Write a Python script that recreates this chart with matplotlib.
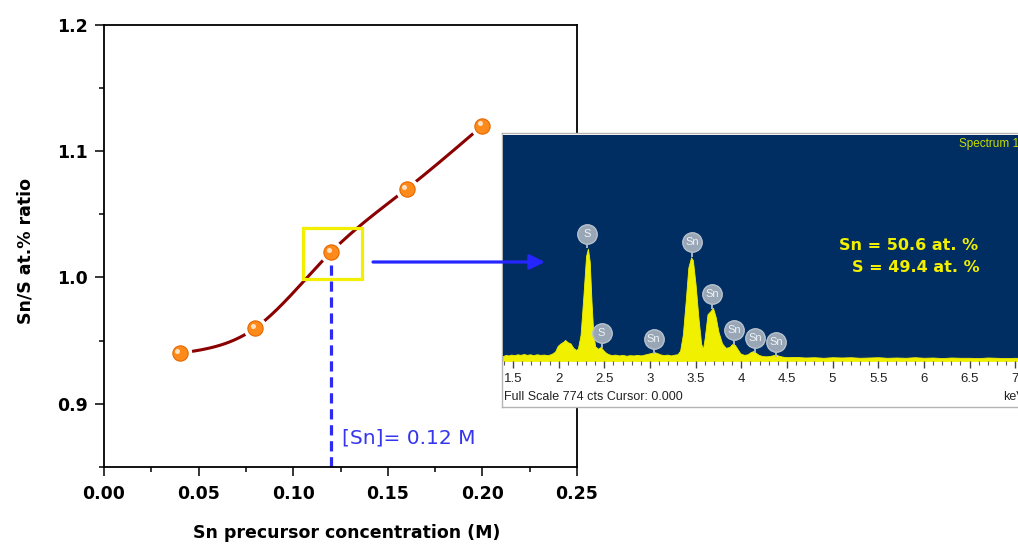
import numpy as np
import matplotlib
matplotlib.use('Agg')
import matplotlib.pyplot as plt
from matplotlib.patches import Rectangle, FancyArrowPatch
from matplotlib.ticker import MultipleLocator
from matplotlib.transforms import ScaledTranslation

# main plot: Sn/S ratio vs precursor concentration
conc = [0.04, 0.08, 0.12, 0.16, 0.20]
ratio = [0.94, 0.96, 1.02, 1.07, 1.12]

# EDS spectrum (keV, counts)
kev = [1.39, 1.42, 1.45, 1.48, 1.51, 1.55, 1.58, 1.62, 1.65, 1.69, 1.72, 1.76, 1.80, 1.84,
       1.88, 1.92, 1.96, 1.99, 2.02, 2.05, 2.07, 2.10, 2.13, 2.16, 2.19, 2.21, 2.24, 2.27,
       2.30, 2.32, 2.34, 2.36, 2.38, 2.40, 2.43, 2.46, 2.48, 2.51, 2.54, 2.58, 2.62, 2.66,
       2.70, 2.74, 2.78, 2.82, 2.86, 2.90, 2.94, 2.98, 3.02, 3.05, 3.08, 3.11, 3.15, 3.19,
       3.23, 3.27, 3.30, 3.33, 3.36, 3.39, 3.42, 3.45, 3.47, 3.50, 3.53, 3.56, 3.58, 3.60,
       3.63, 3.66, 3.69, 3.72, 3.75, 3.79, 3.83, 3.87, 3.90, 3.93, 3.96, 3.99, 4.03, 4.07,
       4.10, 4.13, 4.16, 4.19, 4.23, 4.27, 4.31, 4.35, 4.38, 4.41, 4.45, 4.50, 4.60, 4.70,
       4.80, 4.90, 5.00, 5.10, 5.20, 5.30, 5.40, 5.50, 5.60, 5.70, 5.80, 5.90, 6.00, 6.10,
       6.20, 6.30, 6.40, 6.50, 6.60, 6.70, 6.80, 6.90, 7.00, 7.10, 7.30]
cts = [17, 21, 19, 22, 20, 23, 21, 24, 21, 23, 20, 23, 21, 22,
       20, 24, 32, 52, 60, 66, 72, 64, 60, 45, 38, 42, 90, 220,
       360, 385, 340, 200, 90, 50, 42, 48, 40, 30, 24, 20, 22, 19,
       21, 18, 20, 19, 21, 19, 22, 25, 28, 30, 27, 23, 20, 22,
       19, 22, 23, 35, 90, 200, 320, 355, 345, 260, 150, 60, 40, 80,
       160, 170, 182, 150, 100, 60, 45, 48, 58, 55, 40, 26, 21, 23,
       30, 34, 28, 21, 17, 16, 17, 20, 22, 18, 15, 13, 14, 12,
       13, 11, 13, 12, 13, 11, 12, 13, 11, 12, 11, 13, 11, 12,
       10, 12, 11, 11, 10, 12, 11, 10, 11, 10, 10]

# peak markers
badge_el = ['S', 'S', 'Sn', 'Sn', 'Sn', 'Sn', 'Sn', 'Sn']
badge_kev = [2.31, 2.47, 3.04, 3.46, 3.68, 3.92, 4.15, 4.38]
badge_cts = [436, 95, 75, 406, 228, 106, 78, 65]

kev_ticks = [1.5, 2, 2.5, 3, 3.5, 4, 4.5, 5, 5.5, 6, 6.5, 7]
kev_labels = ['1.5', '2', '2.5', '3', '3.5', '4', '4.5', '5', '5.5', '6', '6.5', '7']

W, H = 1018, 544


def fx(px):
    return px / W


def fy(py):
    return 1 - py / H


def spline(x, y, n=200):
    # natural cubic spline for the smooth guide line
    x = np.asarray(x, float)
    y = np.asarray(y, float)
    k = len(x)
    h = np.diff(x)
    A = np.zeros((k, k))
    b = np.zeros(k)
    A[0, 0] = A[-1, -1] = 1
    for i in range(1, k - 1):
        A[i, i - 1] = h[i - 1]
        A[i, i] = 2 * (h[i - 1] + h[i])
        A[i, i + 1] = h[i]
        b[i] = 6 * ((y[i + 1] - y[i]) / h[i] - (y[i] - y[i - 1]) / h[i - 1])
    M = np.linalg.solve(A, b)
    xs = np.linspace(x[0], x[-1], n)
    j = np.clip(np.searchsorted(x, xs) - 1, 0, k - 2)
    t0 = x[j + 1] - xs
    t1 = xs - x[j]
    ys = (M[j] * t0 ** 3 + M[j + 1] * t1 ** 3) / (6 * h[j]) \
        + (y[j] / h[j] - M[j] * h[j] / 6) * t0 + (y[j + 1] / h[j] - M[j + 1] * h[j] / 6) * t1
    return xs, ys


plt.rcParams['font.family'] = 'DejaVu Sans'

fig = plt.figure(figsize=(W / 100, H / 100), dpi=100)
ax = fig.add_axes([fx(104), fy(467), fx(577) - fx(104), (467 - 24.5) / H])

xs, ys = spline(conc, ratio)
ax.plot(xs, ys, color='#8b0000', lw=2.2, zorder=2)
ax.plot(conc, ratio, 'o', ms=17, color='white', mec='none', zorder=3)
ax.plot(conc, ratio, 'o', ms=11, mfc='#ff8a1c', mec='#e26800', mew=0.8, zorder=4)
hl = ax.transData + ScaledTranslation(-1.6 / 72, 1.6 / 72, fig.dpi_scale_trans)
ax.plot(conc, ratio, 'o', ms=3.6, color='#ffe2c4', mec='none', transform=hl, zorder=5)

ax.add_patch(Rectangle((0.1052, 0.999), 0.0312, 0.040, fill=False,
                       ec='#f2f000', lw=2.3, zorder=6))
ax.plot([0.12, 0.12], [1.01, 0.85], color='#2b2bf2', lw=2.3,
        ls=(0, (3.2, 1.8)), zorder=1, clip_on=False)
ax.text(0.1258, 0.873, '[Sn]= 0.12 M', color='#3535ee', fontsize=14.5, va='center')

ax.set_xlim(0, 0.25)
ax.set_ylim(0.85, 1.2)
ax.set_xticks([0.0, 0.05, 0.10, 0.15, 0.20, 0.25])
ax.set_yticks([0.9, 1.0, 1.1, 1.2])
ax.xaxis.set_minor_locator(MultipleLocator(0.025))
ax.yaxis.set_minor_locator(MultipleLocator(0.05))
ax.tick_params(which='major', direction='out', length=6.5, width=1.1, labelsize=12.5)
ax.tick_params(axis='x', which='major', pad=6.5)
ax.tick_params(axis='y', which='major', pad=5)
ax.tick_params(which='minor', direction='out', length=3.6, width=1.1)
for lab in ax.get_xticklabels() + ax.get_yticklabels():
    lab.set_fontweight('bold')
ax.xaxis.set_major_formatter(plt.FormatStrFormatter('%.2f'))
ax.yaxis.set_major_formatter(plt.FormatStrFormatter('%.1f'))
for s in ax.spines.values():
    s.set_linewidth(1.3)
ax.set_xlabel('Sn precursor concentration (M)', fontsize=12.5, fontweight='bold')
ax.set_ylabel('Sn/S at.% ratio', fontsize=12.5, fontweight='bold')
ax.xaxis.set_label_coords(0.514, -0.128)
ax.yaxis.set_label_coords(-0.146, 0.488)

# inset panel
panel = fig.add_axes([fx(502), fy(407), fx(1030) - fx(502), (407 - 133) / H], zorder=3)
panel.set_facecolor('white')
panel.set_xticks([])
panel.set_yticks([])
for s in panel.spines.values():
    s.set_color('#b4b4b4')
    s.set_linewidth(1)

inset = fig.add_axes([fx(503), fy(361), fx(1040) - fx(503), (361 - 135) / H], zorder=4)
inset.set_facecolor('#002d62')
inset.fill_between(kev, cts, 0, color='#f0f000', lw=0.6, ec='#f0f000')
inset.set_xlim(1.39, 7.272)
inset.set_ylim(0, 774)
inset.set_yticks([])
inset.set_xticks(kev_ticks)
inset.set_xticklabels(kev_labels, fontfamily='Liberation Sans')
inset.xaxis.set_minor_locator(MultipleLocator(0.1))
inset.tick_params(axis='x', which='major', length=5, width=1, color='#444',
                  labelsize=9.5, labelcolor='#222', pad=4)
inset.tick_params(axis='x', which='minor', length=3, width=0.8, color='#555')
for s in inset.spines.values():
    s.set_visible(False)

inset.vlines(badge_kev, np.array(badge_cts) - 50, badge_cts, color='#b4bfcc', lw=1.3, zorder=3)
inset.scatter(badge_kev, badge_cts, s=14 ** 2, c='#98a6b6', edgecolors='#b8c2ce',
              linewidths=1, zorder=4)
for e, k, c in zip(badge_el, badge_kev, badge_cts):
    inset.text(k, c, e, color='#eef2f6', fontsize=8, ha='center', va='center',
               fontfamily='Liberation Sans', zorder=5)

inset.text(fx(839), fy(245), 'Sn = 50.6 at. %', color='#f2f000', fontsize=11.5,
           fontweight='bold', va='center', ha='left', transform=fig.transFigure)
inset.text(fx(980), fy(268), 'S = 49.4 at. %', color='#f2f000', fontsize=11.5,
           fontweight='bold', va='center', ha='right', transform=fig.transFigure)
inset.text(fx(959), fy(144), 'Spectrum 1', color='#c8dc00', fontsize=8.5,
           fontfamily='Liberation Sans', va='center', ha='left', transform=fig.transFigure)
inset.text(fx(504), fy(397), 'Full Scale 774 cts Cursor: 0.000', color='#222', fontsize=9,
           fontfamily='Liberation Sans', va='center', ha='left', transform=fig.transFigure)
inset.text(fx(1003), fy(397), 'keV', color='#222', fontsize=9,
           fontfamily='Liberation Sans', va='center', ha='left', transform=fig.transFigure)

arrow = FancyArrowPatch((fx(373), fy(262)), (fx(545), fy(262)), transform=fig.transFigure,
                        arrowstyle='-|>,head_length=0.45,head_width=0.22', mutation_scale=20,
                        color='#2525ff', lw=2.3, shrinkA=0, shrinkB=0, zorder=10)
fig.add_artist(arrow)

fig.savefig('out.png', dpi=100)
